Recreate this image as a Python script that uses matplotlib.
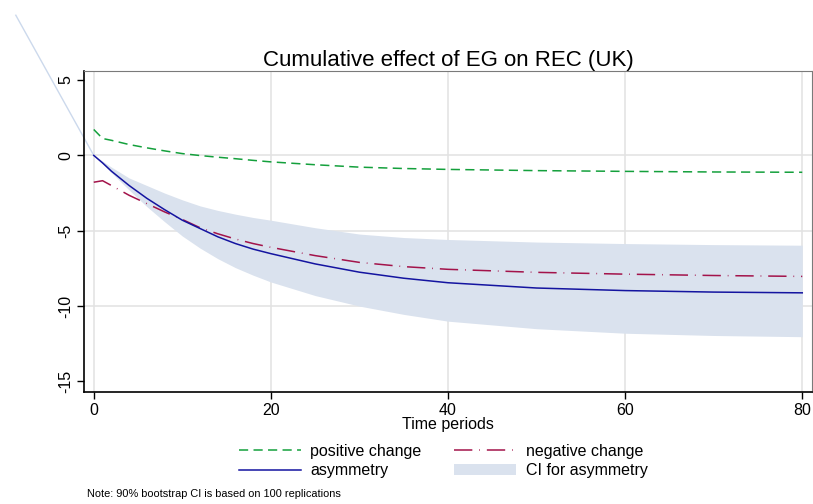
import matplotlib
matplotlib.use("Agg")
import matplotlib.pyplot as plt
from matplotlib.patches import Patch
from matplotlib.lines import Line2D

plt.rcParams['font.family'] = ['Liberation Sans', 'DejaVu Sans']

# values
periods = [0, 1, 2, 4, 6, 8, 10, 12, 14, 16, 18, 20, 25, 30, 35, 40, 50, 60, 70, 80]
positive = [1.72, 1.12, 1.0, 0.72, 0.5, 0.3, 0.12, -0.01, -0.12, -0.22, -0.33, -0.43,
            -0.62, -0.78, -0.87, -0.93, -1.01, -1.06, -1.1, -1.12]
negative = [-1.78, -1.68, -2.0, -2.65, -3.2, -3.75, -4.25, -4.8, -5.2, -5.55, -5.85, -6.1,
            -6.65, -7.1, -7.38, -7.56, -7.76, -7.88, -7.97, -8.03]
asymmetry = [0, -0.5, -1.05, -2.0, -2.85, -3.6, -4.3, -4.85, -5.4, -5.85, -6.22, -6.52,
             -7.2, -7.75, -8.15, -8.45, -8.8, -8.97, -9.07, -9.12]
ci_upper = [0, -0.38, -0.78, -1.5, -2.0, -2.5, -2.95, -3.35, -3.65, -3.9, -4.12, -4.3,
            -4.8, -5.22, -5.45, -5.58, -5.75, -5.85, -5.92, -5.96]
ci_lower = [0, -0.57, -1.15, -2.3, -3.4, -4.4, -5.35, -6.15, -6.85, -7.45, -7.95, -8.4,
            -9.3, -10.0, -10.55, -11.0, -11.5, -11.8, -11.95, -12.03]
# stray edge of the CI band drawn outside the plot region
stray_x = [0, -8.8]
stray_y = [0, 9.3]

xticks = [0, 20, 40, 60, 80]
yticks = [5, 0, -5, -10, -15]

col_pos = '#14a03c'
col_neg = '#a3134a'
col_asym = '#1414a0'
col_ci = '#dae2ee'
dash_pos = (6, 3.5)
dash_neg = (12, 4.5, 0.5, 4.5)

fig = plt.figure(figsize=(8.13, 5.04), dpi=100)
ax = fig.add_axes([84 / 813, 1 - 392 / 504, (812 - 84) / 813, (392 - 71) / 504])

# grid: vertical at every x tick, horizontal only at inner y ticks
for xv in xticks:
    ax.axvline(xv, color='#e2e2e2', lw=1.1, zorder=0)
for yv in yticks[1:-1]:
    ax.axhline(yv, color='#e2e2e2', lw=1.1, zorder=0)

ax.fill_between(periods, ci_lower, ci_upper, color=col_ci, lw=0, zorder=1)
ax.plot(stray_x, stray_y, color='#ccd9ec', lw=1.0, clip_on=False, zorder=1)
ax.plot(periods, positive, color=col_pos, lw=1.1, dashes=dash_pos, zorder=3)
ax.plot(periods, negative, color=col_neg, lw=1.1, dashes=dash_neg, zorder=3)
ax.plot(periods, asymmetry, color=col_asym, lw=1.1, zorder=4)

ax.set_xlim(-1.1, 81.1)
ax.set_ylim(-15.7, 5.6)
ax.set_xticks(xticks)
ax.set_yticks(yticks)
ax.set_yticklabels([str(v) for v in yticks], rotation=90, va='center')
ax.tick_params(axis='both', direction='out', length=5, width=1.0, labelsize=11.5, pad=3)

ax.spines['left'].set_color('black')
ax.spines['bottom'].set_color('black')
ax.spines['left'].set_linewidth(1.2)
ax.spines['bottom'].set_linewidth(1.2)
ax.spines['top'].set_color('#7a7a7a')
ax.spines['right'].set_color('#7a7a7a')

ax.set_xlabel('Time periods', fontsize=11.5, labelpad=-1)
ax.set_title('Cumulative effect of EG on REC (UK)', fontsize=16, pad=3)

handles = [
    Line2D([], [], color=col_pos, lw=1.1, dashes=dash_pos),
    Line2D([], [], color=col_asym, lw=1.1),
    Line2D([], [], color=col_neg, lw=1.1, dashes=dash_neg),
    Patch(facecolor=col_ci, edgecolor='none'),
]
labels = ['positive change', 'asymmetry', 'negative change', 'CI for asymmetry']
fig.legend(handles, labels, ncol=2, loc='center', bbox_to_anchor=(443 / 813, 1 - 461 / 504),
           frameon=False, fontsize=11.5, handlelength=3.9, handletextpad=0.6,
           columnspacing=2.0, labelspacing=0.3)

fig.text(87 / 813, 1 - 494 / 504, 'Note: 90% bootstrap CI is based on 100 replications',
         fontsize=7.9, va='center', ha='left')

fig.savefig('out.png', dpi=100)
